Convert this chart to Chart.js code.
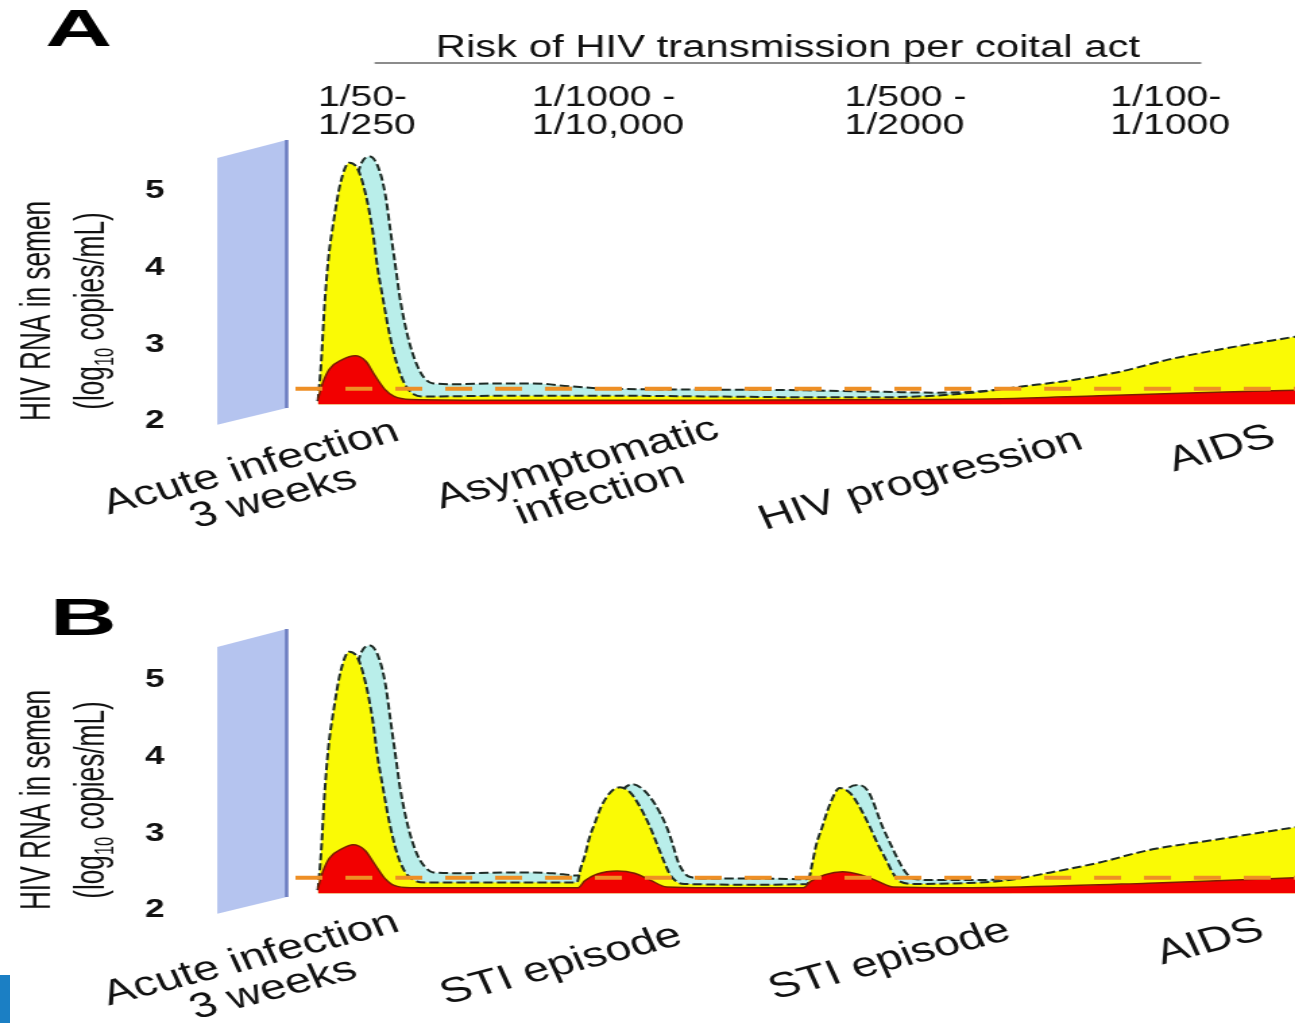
<!DOCTYPE html>
<html>
<head>
<meta charset="utf-8">
<title>HIV RNA in semen</title>
<script src="https://cdn.jsdelivr.net/npm/chart.js@4.4.1/dist/chart.umd.min.js"></script>
<style>
  html, body { margin: 0; padding: 0; background: #fff; overflow: hidden; }
  body { width: 1295px; height: 1023px; position: relative; }
  /* panels are drawn narrow and stretched sideways */
  .panel { position: absolute; left: 0; transform-origin: 0 0; transform: scaleX(1.349); }
  #panelA { top: 0; }
  #panelB { top: 489px; }
  #tab { position: absolute; left: 0; top: 975px; width: 10px; height: 48px; background: #1b7fc4; }
</style>
</head>
<body>
<canvas id="panelA" class="panel" width="960" height="545"></canvas>
<canvas id="panelB" class="panel" width="960" height="534"></canvas>
<div id="tab"></div>
<script>
// ==============================
// Data (x: time, arbitrary units; y: log10 copies/mL)
// ==============================

const yTicks = [2, 3, 4, 5];
const xRange = [-2.3, 100];
const floorLevel = 2.22;
const thresholdLevel = 2.42;

const riskTitle = "Risk of HIV transmission per coital act";
const riskLabels = [["1/50-", "1/250"], ["1/1000 -", "1/10,000"], ["1/500 -", "1/2000"], ["1/100-", "1/1000"]];
const riskAt = [0, 21.9, 53.9, 81.1];

const stagesA = [["Acute infection", "3 weeks"], ["Asymptomatic", "infection"], ["HIV progression"], ["AIDS"]];
const stageAtA = [-6.1, 27.3, 61.7, 92.5];
const stagesB = [["Acute infection", "3 weeks"], ["STI episode"], ["STI episode"], ["AIDS"]];
const stageAtB = [-6.1, 24.9, 58.5, 91.3];

// Panel A
const yellowA = [[0, 2.26], [0.3, 2.7], [0.7, 3.55], [1.1, 4.15], [1.6, 4.6], [2.3, 5.1], [3.2, 5.37],
  [4.1, 5.28], [4.9, 4.95], [5.6, 4.48], [6.1, 4.0], [6.65, 3.6], [7.3, 3.15], [8.1, 2.74], [8.9, 2.48],
  [9.8, 2.35], [11, 2.32], [20, 2.33], [30, 2.33], [40, 2.32], [50, 2.31], [58, 2.31], [63, 2.33],
  [67, 2.37], [72, 2.45], [77, 2.53], [82, 2.64], [87, 2.8], [93, 2.95], [100, 3.1]];
const cyanA = [[0, 2.26], [1.5, 3.0], [2.5, 4.1], [3.5, 4.9], [4.4, 5.35], [5.3, 5.45], [6.2, 5.3],
  [6.9, 4.95], [7.4, 4.5], [7.9, 4.05], [8.4, 3.6], [9.2, 3.1], [10.1, 2.74], [10.9, 2.56], [11.8, 2.49],
  [14, 2.48], [18, 2.49], [22, 2.49], [26, 2.45], [30, 2.42], [40, 2.41], [50, 2.4], [58, 2.38],
  [63, 2.37], [67, 2.38], [70, 2.41]];
const redA = [[0, 2.28], [0.5, 2.5], [1.2, 2.68], [2.5, 2.8], [3.8, 2.85], [4.9, 2.78], [5.8, 2.6],
  [6.8, 2.42], [7.8, 2.32], [9.5, 2.28], [20, 2.27], [40, 2.27], [60, 2.28], [70, 2.29], [80, 2.33],
  [90, 2.37], [100, 2.4]];

// Panel B
const yellowB = [[0, 2.26], [0.3, 2.7], [0.7, 3.55], [1.1, 4.15], [1.6, 4.6], [2.3, 5.1], [3.2, 5.37],
  [4.1, 5.28], [4.9, 4.95], [5.6, 4.48], [6.1, 4.0], [6.65, 3.6], [7.3, 3.15], [8.1, 2.74], [8.9, 2.5],
  [9.8, 2.39], [11, 2.36], [20, 2.36], [26.5, 2.36], [26.9, 2.55], [27.3, 2.7], [27.8, 2.95], [28.3, 3.12],
  [29.0, 3.35], [29.9, 3.53], [30.9, 3.6], [31.9, 3.54], [32.9, 3.36], [34.0, 3.08], [34.7, 2.86],
  [35.4, 2.64], [36.0, 2.47], [36.7, 2.37], [37.5, 2.34], [45, 2.33], [50.1, 2.34], [50.5, 2.55],
  [51.0, 2.85], [51.6, 3.08], [52.4, 3.38], [53.4, 3.59], [54.5, 3.52], [55.5, 3.33], [56.5, 3.08],
  [57.3, 2.86], [58.2, 2.64], [58.9, 2.47], [59.6, 2.37], [61, 2.34], [66, 2.35], [70, 2.38],
  [75, 2.49], [80, 2.62], [85, 2.78], [92, 2.92], [100, 3.08]];
const cyanB = [[0, 2.26], [1.5, 3.0], [2.5, 4.1], [3.5, 4.9], [4.4, 5.35], [5.3, 5.45], [6.2, 5.3],
  [6.9, 4.95], [7.4, 4.5], [7.9, 4.05], [8.4, 3.6], [9.2, 3.1], [10.1, 2.74], [10.9, 2.57], [11.8, 2.49],
  [15, 2.48], [20, 2.49], [24, 2.48], [26.5, 2.45], [28, 2.5], [29.2, 2.95], [30.2, 3.35], [31.2, 3.57],
  [32.2, 3.64], [33.3, 3.57], [34.5, 3.38], [35.7, 3.08], [36.3, 2.86], [36.8, 2.65], [37.4, 2.5],
  [38.1, 2.43], [40, 2.41], [46, 2.41], [50, 2.4], [51.5, 2.6], [52.6, 3.1], [53.6, 3.45], [54.4, 3.6],
  [55.3, 3.63], [56.3, 3.55], [57.8, 3.08], [58.6, 2.86], [59.4, 2.65], [60.1, 2.5], [60.9, 2.41],
  [63, 2.39], [67, 2.39], [71, 2.4]];
const redB = [[0, 2.28], [0.5, 2.5], [1.2, 2.68], [2.5, 2.8], [3.6, 2.85], [4.8, 2.78], [5.8, 2.6],
  [6.8, 2.42], [7.8, 2.32], [9.5, 2.29], [20, 2.29], [26.6, 2.29], [27.3, 2.38], [28.6, 2.47],
  [30.6, 2.51], [32.4, 2.48], [34.0, 2.39], [35.7, 2.3], [40, 2.29], [49.7, 2.29], [50.4, 2.37],
  [51.9, 2.46], [53.7, 2.5], [55.5, 2.46], [57.2, 2.38], [58.9, 2.3], [65, 2.29], [75, 2.31],
  [85, 2.35], [92, 2.38], [100, 2.42]];

// ==============================
// Styles
// ==============================

const FONT = "'Liberation Sans', Arial, sans-serif";
Chart.defaults.font.family = FONT;

const lookA = { letter: "A", letterX: 33.4, letterY: 46, stageDy: [63, 59, 59, 28], header: true, height: 545 };
const lookB = { letter: "B", letterX: 37, letterY: 146, stageDy: [65, 55, 50, 32], header: false, height: 534 };

function areaSet(points, fill, line, dash, width) {
    return {
        data: points.map(([x, y]) => ({ x, y })),
        backgroundColor: fill,
        borderColor: line,
        borderWidth: width,
        borderDash: dash,
        borderJoinStyle: "round",
        fill: { value: floorLevel },
        pointRadius: 0,
        cubicInterpolationMode: "monotone"
    };
}

// ==============================
// Decorations: wall, titles, stage labels
// ==============================

function drawYTitle(ctx, cy) {
    const big = "32px " + FONT;
    const small = "20px " + FONT;

    ctx.save();
    ctx.fillStyle = "#111";
    ctx.translate(37, cy);
    ctx.rotate(-Math.PI / 2);
    ctx.scale(0.82, 1);
    ctx.font = big;
    ctx.textAlign = "center";
    ctx.fillText("HIV RNA in semen", 0, 0);
    ctx.restore();

    // second line carries a subscript
    const parts = [["(log", big, 0], ["10", small, 7], [" copies/mL)", big, 0]];
    ctx.save();
    ctx.fillStyle = "#111";
    ctx.translate(77, cy);
    ctx.rotate(-Math.PI / 2);
    ctx.scale(0.82, 1);
    ctx.textAlign = "left";
    let total = 0;
    const widths = parts.map(([t, f]) => { ctx.font = f; const w = ctx.measureText(t).width; total += w; return w; });
    let px = -total / 2;
    parts.forEach(([t, f, dy], i) => {
        ctx.font = f;
        ctx.fillText(t, px, dy);
        px += widths[i];
    });
    ctx.restore();
}

function panelDecor(look, stages, stageAt) {
    return {
        id: "panelDecor",
        beforeDatasetsDraw(chart) {
            const ctx = chart.ctx;
            const x = chart.scales.x;
            const y = chart.scales.y;
            const xl = x.getPixelForValue(-10.3);
            const xr = x.getPixelForValue(-3.2);

            ctx.save();
            ctx.fillStyle = "#b5c4ef";
            ctx.beginPath();
            ctx.moveTo(xl, y.getPixelForValue(5.43));
            ctx.lineTo(xr, y.getPixelForValue(5.665));
            ctx.lineTo(xr, y.getPixelForValue(2.17));
            ctx.lineTo(xl, y.getPixelForValue(1.95));
            ctx.closePath();
            ctx.fill();
            ctx.strokeStyle = "#6b7cc0";
            ctx.lineWidth = 2.5;
            ctx.beginPath();
            ctx.moveTo(xr, y.getPixelForValue(5.665));
            ctx.lineTo(xr, y.getPixelForValue(2.17));
            ctx.stroke();
            ctx.restore();
        },
        afterDraw(chart) {
            const ctx = chart.ctx;
            const x = chart.scales.x;
            const y = chart.scales.y;

            drawYTitle(ctx, 311);

            // panel letter
            ctx.save();
            ctx.fillStyle = "#000";
            ctx.font = "bold 52px " + FONT;
            ctx.textAlign = "left";
            ctx.translate(look.letterX, look.letterY);
            ctx.scale(1.32, 1);
            ctx.fillText(look.letter, 0, 0);
            ctx.restore();

            // stage labels under the curves
            ctx.save();
            ctx.fillStyle = "#111";
            ctx.font = "35px " + FONT;
            ctx.textAlign = "center";
            ctx.textBaseline = "middle";
            stages.forEach((lines, i) => {
                const px = x.getPixelForValue(stageAt[i]);
                const py = y.getPixelForValue(2) + look.stageDy[i];
                const lh = 34;
                const off = (lines.length - 1) * lh / 2;
                ctx.save();
                ctx.translate(px, py);
                ctx.rotate(-19 * Math.PI / 180);
                lines.forEach((t, k) => ctx.fillText(t, k * 6, k * lh - off));
                ctx.restore();
            });
            ctx.restore();

            if (!look.header) return;

            // transmission risk header
            ctx.save();
            ctx.fillStyle = "#111";
            ctx.font = "31px " + FONT;
            ctx.textAlign = "center";
            ctx.fillText(riskTitle, x.getPixelForValue(48.1), 57);
            ctx.strokeStyle = "#666";
            ctx.lineWidth = 1.5;
            ctx.beginPath();
            ctx.moveTo(x.getPixelForValue(5.8), 63);
            ctx.lineTo(x.getPixelForValue(90.4), 63);
            ctx.stroke();
            ctx.font = "29px " + FONT;
            ctx.textAlign = "left";
            riskLabels.forEach((lines, i) => {
                const px = x.getPixelForValue(riskAt[i]);
                ctx.fillText(lines[0], px, 106);
                ctx.fillText(lines[1], px, 134);
            });
            ctx.restore();
        }
    };
}

// ==============================
// Charts
// ==============================

function makePanel(id, yellow, cyan, red, stages, stageAt, look) {
    return new Chart(document.getElementById(id), {
        type: "line",
        data: {
            datasets: [
                {
                    data: xRange.map(x => ({ x, y: thresholdLevel })),
                    borderColor: "#ee8f25",
                    borderWidth: 4,
                    borderDash: [20, 17],
                    fill: false,
                    pointRadius: 0
                },
                areaSet(red, "#f20000", "#7a1e00", [], 1.5),
                areaSet(yellow, "#fafa05", "#1e2b25", [7, 3], 2),
                areaSet(cyan, "#b9eeea", "#1e2b25", [7, 3], 2)
            ]
        },
        options: {
            responsive: false,
            maintainAspectRatio: false,
            animation: false,
            devicePixelRatio: 1,
            layout: {
                padding: { top: 129.67, bottom: look.height - 444, left: 0, right: 0 }
            },
            plugins: {
                legend: { display: false },
                tooltip: { enabled: false }
            },
            scales: {
                x: {
                    type: "linear",
                    min: xRange[0],
                    max: xRange[1],
                    display: false
                },
                y: {
                    type: "linear",
                    min: 1.7,
                    max: 5.8,
                    grid: { display: false, drawTicks: false },
                    border: { display: false },
                    ticks: {
                        color: "#111",
                        padding: 97,
                        font: { size: 26, weight: "bold" }
                    },
                    afterBuildTicks: scale => {
                        scale.ticks = yTicks.map(v => ({ value: v }));
                    },
                    afterFit: scale => {
                        scale.width = 219;
                        scale.paddingTop = 0;
                        scale.paddingBottom = 0;
                    }
                }
            }
        },
        plugins: [panelDecor(look, stages, stageAt)]
    });
}

makePanel("panelA", yellowA, cyanA, redA, stagesA, stageAtA, lookA);
makePanel("panelB", yellowB, cyanB, redB, stagesB, stageAtB, lookB);
</script>
</body>
</html>
